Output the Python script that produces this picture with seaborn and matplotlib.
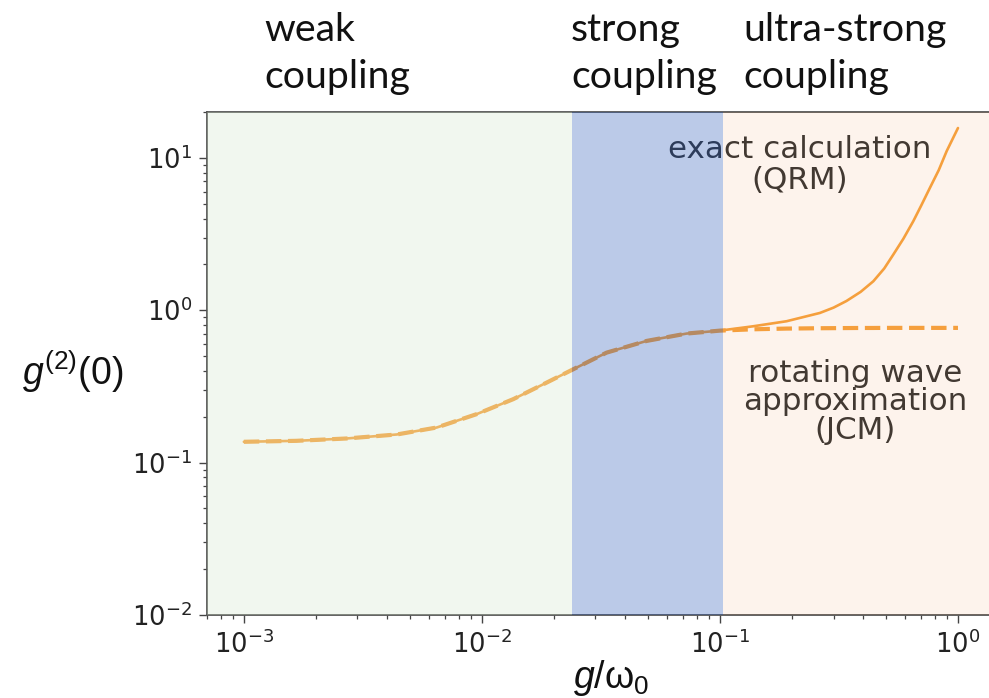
import matplotlib
matplotlib.use("Agg")
import matplotlib.pyplot as plt
import pandas as pd
import seaborn as sns
from matplotlib.ticker import LogLocator, NullFormatter

# Coupling strength g/omega_0 and second-order correlation g2(0)
coupling = [0.001, 0.00166, 0.0027, 0.00439, 0.00646, 0.0095, 0.01355, 0.0187,
            0.0242, 0.0334, 0.0492, 0.0724, 0.1, 0.138, 0.1905, 0.263, 0.30,
            0.34, 0.39, 0.441, 0.49, 0.535, 0.59, 0.649, 0.70, 0.762, 0.83,
            0.897, 1.0]
g2_qrm = [0.137, 0.139, 0.144, 0.153, 0.170, 0.208, 0.261, 0.335, 0.410, 0.527,
          0.629, 0.703, 0.735, 0.785, 0.847, 0.96, 1.04, 1.15, 1.32, 1.55, 1.88,
          2.32, 2.95, 3.84, 4.85, 6.35, 8.3, 11.1, 15.7]
g2_jcm = [0.137, 0.139, 0.144, 0.153, 0.170, 0.208, 0.261, 0.335, 0.410, 0.527,
          0.629, 0.703, 0.735, 0.750, 0.758, 0.762, 0.763, 0.764, 0.765, 0.765,
          0.766, 0.766, 0.766, 0.766, 0.766, 0.766, 0.766, 0.766, 0.766]

regime_edges = [0.024, 0.103]
regime_labels = [("weak", "coupling"), ("strong", "coupling"),
                 ("ultra-strong", "coupling")]
qrm_label = "exact calculation\n(QRM)"
jcm_label = "rotating wave\napproximation\n(JCM)"

df = pd.DataFrame({"g": coupling, "qrm": g2_qrm, "jcm": g2_jcm})

sns.set_style("ticks")
plt.rcParams["font.family"] = ["DejaVu Sans"]
plt.rcParams["mathtext.fontset"] = "dejavusans"
plt.rcParams["mathtext.rm"] = "Liberation Sans"
plt.rcParams["mathtext.it"] = "Liberation Sans:italic"

W, H = 989, 698
fig = plt.figure(figsize=(W / 100, H / 100), dpi=100)
ax = fig.add_axes([207 / W, 1 - 615 / H, 1 - 207 / W, (615 - 112) / H])
ax.set_xscale("log")
ax.set_yscale("log")

orange = "#f7a33f"
sns.lineplot(data=df, x="g", y="jcm", ax=ax, color=orange, lw=3.0,
             linestyle="--", zorder=2)
sns.lineplot(data=df, x="g", y="qrm", ax=ax, color=orange, lw=1.9, zorder=2.1)
for ln in ax.get_lines():
    ln.set_solid_joinstyle("round")

# regime shading laid over the curves
ax.axvspan(1e-5, regime_edges[0], color="#d0e4c6", alpha=0.28, lw=0, zorder=4)
ax.axvspan(regime_edges[0], regime_edges[1], color="#2052b6", alpha=0.3, lw=0,
           zorder=4)
ax.axvspan(regime_edges[1], 100, color="#eb7d2d", alpha=0.085, lw=0, zorder=4)

ax.set_xlim(7.0e-4, 1.35)
ax.set_ylim(0.01, 20)
ax.set_xlabel("")
ax.set_ylabel("")

ax.xaxis.set_major_locator(LogLocator(base=10, numticks=10))
ax.yaxis.set_major_locator(LogLocator(base=10, numticks=10))
ax.xaxis.set_minor_locator(LogLocator(base=10, subs=range(2, 10), numticks=20))
ax.yaxis.set_minor_locator(LogLocator(base=10, subs=range(2, 10), numticks=20))
ax.xaxis.set_minor_formatter(NullFormatter())
ax.yaxis.set_minor_formatter(NullFormatter())
ax.tick_params(which="major", length=6, width=1.0, labelsize=18.5, pad=5,
               color="#444444", labelcolor="#222222")
ax.tick_params(which="minor", length=3.2, width=0.9, color="#444444")
for side in ("left", "bottom", "top"):
    ax.spines[side].set_color("#555555")
    ax.spines[side].set_linewidth(1.3)
ax.spines["right"].set_visible(False)

# curve annotations
ax.text(800 / W, 1 - 165 / H, qrm_label, transform=fig.transFigure,
        ha="center", va="center", fontsize=22.3, color="#333333",
        linespacing=1.05, zorder=3)
ax.text(855 / W, 1 - 402 / H, jcm_label, transform=fig.transFigure,
        ha="center", va="center", fontsize=22.3, color="#333333",
        linespacing=0.98, zorder=3)

# regime headings
for (l1, l2), x in zip(regime_labels, [264, 571, 743]):
    fig.text(x / W, 1 - 41 / H, l1, ha="left", va="baseline", fontsize=28.3,
             family="Lato", color="#111111")
    fig.text(x / W, 1 - 88 / H, l2, ha="left", va="baseline", fontsize=28.3,
             family="Lato", color="#111111")

fig.text(22 / W, 1 - 372 / H, r"$g^{(2)}(0)$", ha="left", va="center",
         fontsize=27, math_fontfamily="custom", color="#111111")
fig.text(611 / W, 1 - 688 / H, r"$g/\mathrm{\omega}_0$", ha="center",
         va="baseline", fontsize=27, math_fontfamily="custom", color="#111111")

fig.savefig("out.png", dpi=100)
